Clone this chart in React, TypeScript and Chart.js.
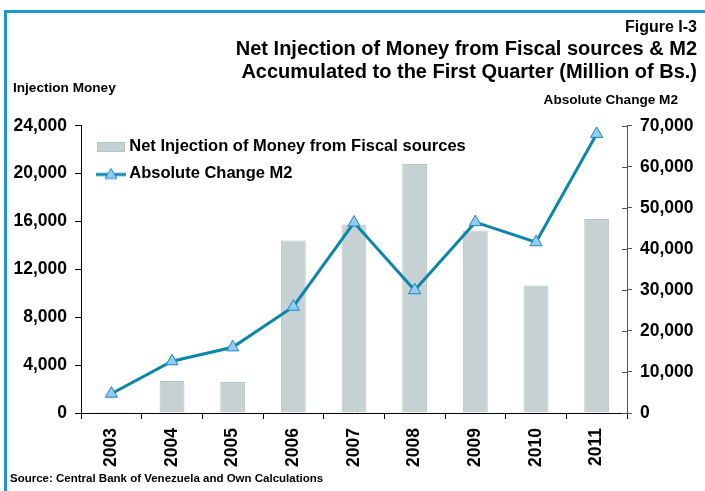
import React, { useEffect, useRef } from 'react';
import { Chart, registerables } from 'chart.js';

Chart.register(...registerables);

const YEARS = ['2003', '2004', '2005', '2006', '2007', '2008', '2009', '2010', '2011'];
const INJECTION = [90, 2680, 2580, 14420, 15750, 20800, 15250, 10660, 16200];
const M2_CHANGE = [4700, 12600, 16000, 25900, 46400, 29900, 46500, 41600, 68000];

const LEFT_MIN = 0;
const LEFT_MAX = 24000;
const LEFT_STEP = 4000;
const RIGHT_MIN = 0;
const RIGHT_MAX = 70000;
const RIGHT_STEP = 10000;

const TITLE = 'Figure I-3';
const SUBTITLE = [
  'Net Injection of Money from Fiscal sources & M2',
  'Accumulated to the First Quarter (Million of Bs.)',
];
const BAR_LABEL = 'Net Injection of Money from Fiscal sources';
const LINE_LABEL = 'Absolute Change M2';
const LEFT_HEADER = 'Injection Money';
const RIGHT_HEADER = 'Absolute Change M2';
const SOURCE = 'Source: Central Bank of Venezuela and Own Calculations';

const FONT = "'Liberation Sans', Arial, sans-serif";
const BAR_COLOR = '#c5d1d2';
const BAR_EDGE = '#b7c4c5';
const LINE_COLOR = '#0a86ab';
const MARKER_FILL = '#95ccf3';
const MARKER_EDGE = '#1a84c0';
const FRAME_COLOR = '#1b98cd';

function makeBarIcon(): HTMLCanvasElement {
  const c = document.createElement('canvas');
  c.width = 28;
  c.height = 10;
  const ctx = c.getContext('2d')!;
  ctx.fillStyle = BAR_COLOR;
  ctx.fillRect(0, 0, 28, 10);
  ctx.strokeStyle = BAR_EDGE;
  ctx.lineWidth = 1;
  ctx.strokeRect(0.5, 0.5, 27, 9);
  return c;
}

function makeLineIcon(): HTMLCanvasElement {
  const c = document.createElement('canvas');
  c.width = 30;
  c.height = 14;
  const ctx = c.getContext('2d')!;
  ctx.strokeStyle = LINE_COLOR;
  ctx.lineWidth = 3;
  ctx.beginPath();
  ctx.moveTo(0, 8);
  ctx.lineTo(30, 8);
  ctx.stroke();
  ctx.fillStyle = MARKER_FILL;
  ctx.strokeStyle = MARKER_EDGE;
  ctx.lineWidth = 1;
  ctx.beginPath();
  ctx.moveTo(15, 2);
  ctx.lineTo(21, 12);
  ctx.lineTo(9, 12);
  ctx.closePath();
  ctx.fill();
  ctx.stroke();
  return c;
}

const decorPlugin = {
  id: 'decor',
  afterLayout(chart: any) {
    const lg = chart.legend;
    if (lg) {
      const h = lg.height;
      lg.left = chart.chartArea.left + 10;
      lg.top = chart.chartArea.top + 3;
      lg.bottom = lg.top + h;
    }
  },
  beforeDraw(chart: any) {
    const ctx = chart.ctx;
    ctx.save();
    ctx.fillStyle = FRAME_COLOR;
    ctx.fillRect(4, 10, 3, chart.height - 10);
    ctx.fillRect(4, 10, chart.width - 4, 3);
    ctx.restore();
  },
  afterDraw(chart: any) {
    const ctx = chart.ctx;
    ctx.save();
    ctx.fillStyle = '#000';
    ctx.textBaseline = 'middle';
    ctx.font = `bold 13.6px ${FONT}`;
    ctx.textAlign = 'left';
    ctx.fillText(LEFT_HEADER, 13, 88);
    ctx.textAlign = 'right';
    ctx.fillText(RIGHT_HEADER, 678, 100);
    ctx.font = `bold 11.5px ${FONT}`;
    ctx.textAlign = 'left';
    ctx.fillText(SOURCE, 10, 479);
    // inner half of the right-axis tick marks
    const s = chart.scales.y1;
    ctx.strokeStyle = '#555';
    ctx.lineWidth = 1;
    s.ticks.forEach((t: any) => {
      const y = Math.round(s.getPixelForValue(t.value)) + 0.5;
      ctx.beginPath();
      ctx.moveTo(s.left - 5, y);
      ctx.lineTo(s.left, y);
      ctx.stroke();
    });
    ctx.restore();
  },
};

export default function App() {
  const ref = useRef<HTMLCanvasElement | null>(null);

  useEffect(() => {
    if (!ref.current) return;
    const barIcon = makeBarIcon();
    const lineIcon = makeLineIcon();
    const fmt = (v: any) => Number(v).toLocaleString('en-US');

    const chart = new Chart(ref.current, {
      type: 'bar',
      data: {
        labels: YEARS,
        datasets: [
          {
            type: 'bar',
            label: BAR_LABEL,
            data: INJECTION,
            yAxisID: 'y',
            backgroundColor: BAR_COLOR,
            borderColor: BAR_EDGE,
            borderWidth: 1,
            barPercentage: 0.41,
            categoryPercentage: 1.0,
            order: 2,
          },
          {
            type: 'line',
            label: LINE_LABEL,
            data: M2_CHANGE,
            yAxisID: 'y1',
            borderColor: LINE_COLOR,
            borderWidth: 3,
            tension: 0,
            fill: false,
            pointStyle: 'triangle',
            pointRadius: 7,
            pointBackgroundColor: MARKER_FILL,
            pointBorderColor: MARKER_EDGE,
            pointBorderWidth: 1,
            order: 1,
          },
        ] as any,
      },
      options: {
        responsive: false,
        animation: false,
        devicePixelRatio: 1,
        layout: { padding: { left: 8, right: 8, top: 0, bottom: 18 } },
        plugins: {
          title: {
            display: true,
            text: TITLE,
            align: 'end',
            color: '#000',
            font: { family: FONT, size: 16, weight: 'bold', lineHeight: 1.2 },
            padding: { top: 18, bottom: 0 },
          },
          subtitle: {
            display: true,
            text: SUBTITLE,
            align: 'end',
            color: '#000',
            font: { family: FONT, size: 20, weight: 'bold', lineHeight: 1.15 },
            padding: { top: 1, bottom: 41.5 },
          },
          legend: {
            display: true,
            position: 'chartArea',
            align: 'start',
            labels: {
              usePointStyle: true,
              pointStyleWidth: 20,
              padding: 10,
              color: '#000',
              font: { family: FONT, size: 16.5, weight: 'bold' },
              generateLabels: () => [
                {
                  text: BAR_LABEL,
                  pointStyle: barIcon,
                  datasetIndex: 0,
                  hidden: false,
                  fillStyle: BAR_COLOR,
                  strokeStyle: BAR_EDGE,
                  lineWidth: 0,
                  fontColor: '#000',
                },
                {
                  text: LINE_LABEL,
                  pointStyle: lineIcon,
                  datasetIndex: 1,
                  hidden: false,
                  fillStyle: MARKER_FILL,
                  strokeStyle: LINE_COLOR,
                  lineWidth: 0,
                  fontColor: '#000',
                },
              ] as any,
            },
          },
          tooltip: { enabled: false },
        },
        scales: {
          x: {
            grid: {
              display: true,
              drawOnChartArea: false,
              drawTicks: true,
              tickLength: 6,
              tickColor: '#000',
              offset: true,
            },
            border: { color: '#000', width: 1 },
            ticks: {
              color: '#000',
              font: { family: FONT, size: 17.5, weight: 'bold' },
              minRotation: 90,
              maxRotation: 90,
              autoSkip: false,
              padding: 9,
            },
            afterFit: (s: any) => {
              s.height = 60;
            },
          },
          y: {
            position: 'left',
            min: LEFT_MIN,
            max: LEFT_MAX,
            grid: {
              drawOnChartArea: false,
              drawTicks: true,
              tickLength: 6,
              tickColor: '#000',
            },
            border: { color: '#000', width: 1 },
            ticks: {
              stepSize: LEFT_STEP,
              color: '#000',
              padding: 8,
              font: { family: FONT, size: 17.5, weight: 'bold' },
              callback: fmt,
            },
            afterFit: (s: any) => {
              s.width = 73;
            },
          },
          y1: {
            position: 'right',
            min: RIGHT_MIN,
            max: RIGHT_MAX,
            grid: {
              drawOnChartArea: false,
              drawTicks: true,
              tickLength: 5,
              tickColor: '#555',
            },
            border: { color: '#555', width: 1 },
            ticks: {
              stepSize: RIGHT_STEP,
              color: '#000',
              padding: 8,
              font: { family: FONT, size: 17.5, weight: 'bold' },
              callback: fmt,
            },
            afterFit: (s: any) => {
              s.width = 70;
            },
          },
        },
      } as any,
      plugins: [decorPlugin],
    });
    return () => chart.destroy();
  }, []);

  return (
    <canvas
      ref={ref}
      width={705}
      height={491}
      style={{ position: 'fixed', left: 0, top: 0, width: 705, height: 491 }}
    />
  );
}
